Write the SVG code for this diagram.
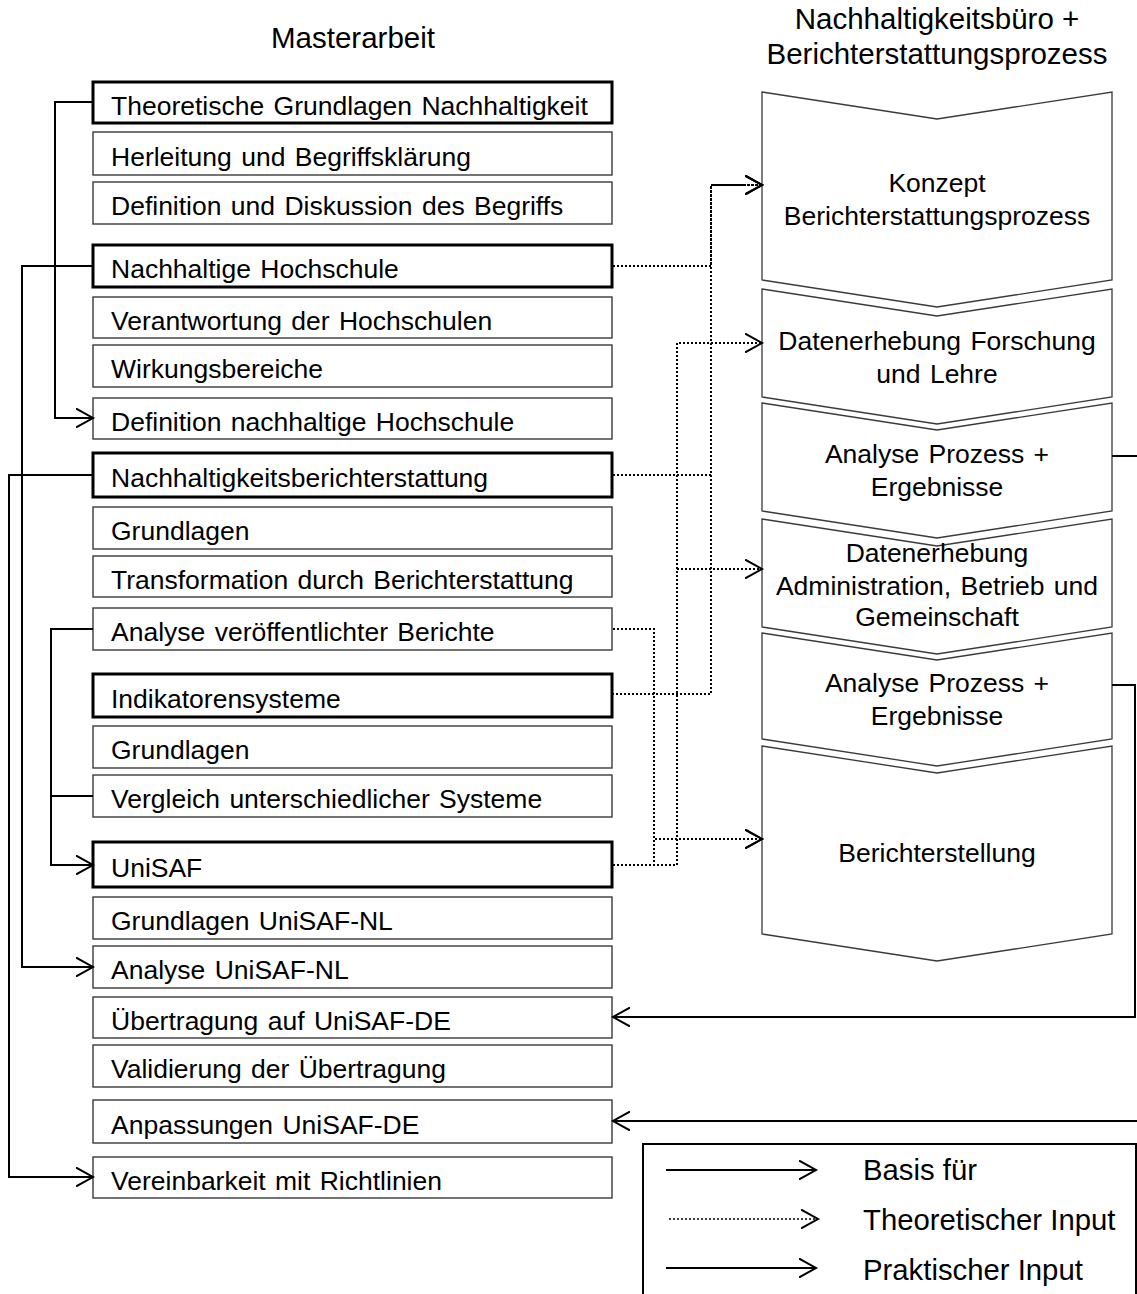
<svg xmlns="http://www.w3.org/2000/svg" width="1137" height="1294" viewBox="0 0 1137 1294">
<style>
text{font-family:"Liberation Sans",Arial,sans-serif;fill:#000;}
.t{font-size:26.5px;word-spacing:2px;}
.title{font-size:29.5px;text-anchor:middle;}
.c{font-size:26.5px;text-anchor:middle;word-spacing:2px;}
.lg{font-size:29.3px;}
.box{fill:#fff;stroke:#3a3a3a;stroke-width:1.4;}
.bold{fill:#fff;stroke:#000;stroke-width:3;}
.chev{fill:#fff;stroke:#3a3a3a;stroke-width:1.3;}
.solid{fill:none;stroke:#000;stroke-width:2;}
.dot{fill:none;stroke:#000;stroke-width:2;stroke-dasharray:2 2;}
</style>
<defs>
<marker id="ah" viewBox="0 0 20 20" refX="17" refY="10" markerWidth="20" markerHeight="20" markerUnits="userSpaceOnUse" orient="auto">
<path d="M0,0.5 L17,10 L0,19.5" fill="none" stroke="#000" stroke-width="2" stroke-dasharray="none"/>
</marker>
</defs>
<rect width="1137" height="1294" fill="#fff"/>

<g id="titles">
<text class="title" x="353" y="48">Masterarbeit</text>
<text class="title" x="937" y="29">Nachhaltigkeitsbüro +</text>
<text class="title" x="937" y="64">Berichterstattungsprozess</text>
</g>

<g id="n1"><rect class="bold" x="93" y="82" width="519" height="41"/><text class="t" x="111" y="114.5">Theoretische Grundlagen Nachhaltigkeit</text></g>
<g id="n2"><rect class="box" x="93" y="132" width="519" height="43"/><text class="t" x="111" y="165.5">Herleitung und Begriffsklärung</text></g>
<g id="n3"><rect class="box" x="93" y="182" width="519" height="42"/><text class="t" x="111" y="215">Definition und Diskussion des Begriffs</text></g>
<g id="n4"><rect class="bold" x="93" y="245" width="519" height="42"/><text class="t" x="111" y="278">Nachhaltige Hochschule</text></g>
<g id="n5"><rect class="box" x="93" y="297" width="519" height="41"/><text class="t" x="111" y="329.5">Verantwortung der Hochschulen</text></g>
<g id="n6"><rect class="box" x="93" y="345" width="519" height="42"/><text class="t" x="111" y="378">Wirkungsbereiche</text></g>
<g id="n7"><rect class="box" x="93" y="398" width="519" height="41"/><text class="t" x="111" y="430.5">Definition nachhaltige Hochschule</text></g>
<g id="n8"><rect class="bold" x="93" y="453" width="519" height="44"/><text class="t" x="111" y="487">Nachhaltigkeitsberichterstattung</text></g>
<g id="n9"><rect class="box" x="93" y="507" width="519" height="42"/><text class="t" x="111" y="540">Grundlagen</text></g>
<g id="n10"><rect class="box" x="93" y="556" width="519" height="41"/><text class="t" x="111" y="588.5">Transformation durch Berichterstattung</text></g>
<g id="n11"><rect class="box" x="93" y="608" width="519" height="42"/><text class="t" x="111" y="641">Analyse veröffentlichter Berichte</text></g>
<g id="n12"><rect class="bold" x="93" y="674" width="519" height="43"/><text class="t" x="111" y="707.5">Indikatorensysteme</text></g>
<g id="n13"><rect class="box" x="93" y="726" width="519" height="42"/><text class="t" x="111" y="759">Grundlagen</text></g>
<g id="n14"><rect class="box" x="93" y="775" width="519" height="42"/><text class="t" x="111" y="808">Vergleich unterschiedlicher Systeme</text></g>
<g id="n15"><rect class="bold" x="93" y="842" width="519" height="45"/><text class="t" x="111" y="876.5">UniSAF</text></g>
<g id="n16"><rect class="box" x="93" y="897" width="519" height="42"/><text class="t" x="111" y="930">Grundlagen UniSAF-NL</text></g>
<g id="n17"><rect class="box" x="93" y="946" width="519" height="42"/><text class="t" x="111" y="979">Analyse UniSAF-NL</text></g>
<g id="n18"><rect class="box" x="93" y="997" width="519" height="41"/><text class="t" x="111" y="1029.5">Übertragung auf UniSAF-DE</text></g>
<g id="n19"><rect class="box" x="93" y="1045" width="519" height="42"/><text class="t" x="111" y="1078">Validierung der Übertragung</text></g>
<g id="n20"><rect class="box" x="93" y="1100" width="519" height="43"/><text class="t" x="111" y="1133.5">Anpassungen UniSAF-DE</text></g>
<g id="n21"><rect class="box" x="93" y="1157" width="519" height="41"/><text class="t" x="111" y="1189.5">Vereinbarkeit mit Richtlinien</text></g>

<g id="c1"><polygon class="chev" points="762,92 937,119 1112,92 1112,280 937,307 762,280"/><text class="c" x="937" y="192">Konzept</text><text class="c" x="937" y="225">Berichterstattungsprozess</text></g>
<g id="c2"><polygon class="chev" points="762,289 937,316 1112,289 1112,397 937,424 762,397"/><text class="c" x="937" y="350">Datenerhebung Forschung</text><text class="c" x="937" y="383">und Lehre</text></g>
<g id="c3"><polygon class="chev" points="762,403 937,430 1112,403 1112,511 937,538 762,511"/><text class="c" x="937" y="463">Analyse Prozess +</text><text class="c" x="937" y="496">Ergebnisse</text></g>
<g id="c4"><polygon class="chev" points="762,519 937,546 1112,519 1112,627 937,654 762,627"/><text class="c" x="937" y="562">Datenerhebung</text><text class="c" x="937" y="595">Administration, Betrieb und</text><text class="c" x="937" y="626">Gemeinschaft</text></g>
<g id="c5"><polygon class="chev" points="762,633 937,660 1112,633 1112,739 937,766 762,739"/><text class="c" x="937" y="692">Analyse Prozess +</text><text class="c" x="937" y="725">Ergebnisse</text></g>
<g id="c6"><polygon class="chev" points="762,746 937,773 1112,746 1112,934 937,961 762,934"/><text class="c" x="937" y="862">Berichterstellung</text></g>

<g id="connectors">
<path class="solid" d="M93,102 H55 V418 H93" marker-end="url(#ah)"/>
<path class="solid" d="M93,266 H22 V967 H93" marker-end="url(#ah)"/>
<path class="solid" d="M93,475 H9 V1177 H93" marker-end="url(#ah)"/>
<path class="solid" d="M93,629 H51 V865 H93" marker-end="url(#ah)"/>
<path class="solid" d="M93,796 H51"/>
<path class="solid" d="M1112,456 H1145 V1121 H613" marker-end="url(#ah)"/>
<path class="solid" d="M1112,685 H1135 V1017 H613" marker-end="url(#ah)"/>
<path class="dot" d="M613,266 H711 V185 H762" marker-end="url(#ah)"/>
<path class="dot" d="M613,475 H711 V185 H762" marker-end="url(#ah)"/>
<path class="dot" style="stroke-dashoffset:1" d="M613,694 H711 V185 H762" marker-end="url(#ah)"/>
<path class="solid" d="M711,185 H745"/>
<path class="dot" d="M613,865 H677 V343 H762" marker-end="url(#ah)"/>
<path class="dot" d="M677,569 H762" marker-end="url(#ah)"/>
<path class="dot" d="M613,629 H654 V839 H762" marker-end="url(#ah)"/>
<path class="dot" d="M613,865 H654 V839 H762" marker-end="url(#ah)"/>
</g>

<g id="legend">
<rect x="643" y="1144" width="493" height="170" fill="none" stroke="#000" stroke-width="2"/>
<path class="solid" d="M666,1170 H816" marker-end="url(#ah)"/>
<path class="dot" style="stroke-width:1.5" d="M669,1219 H818" marker-end="url(#ah)"/>
<path class="solid" d="M666,1268 H816" marker-end="url(#ah)"/>
<text class="lg" x="863" y="1180">Basis für</text>
<text class="lg" x="863" y="1230">Theoretischer Input</text>
<text class="lg" x="863" y="1280">Praktischer Input</text>
</g>
</svg>
